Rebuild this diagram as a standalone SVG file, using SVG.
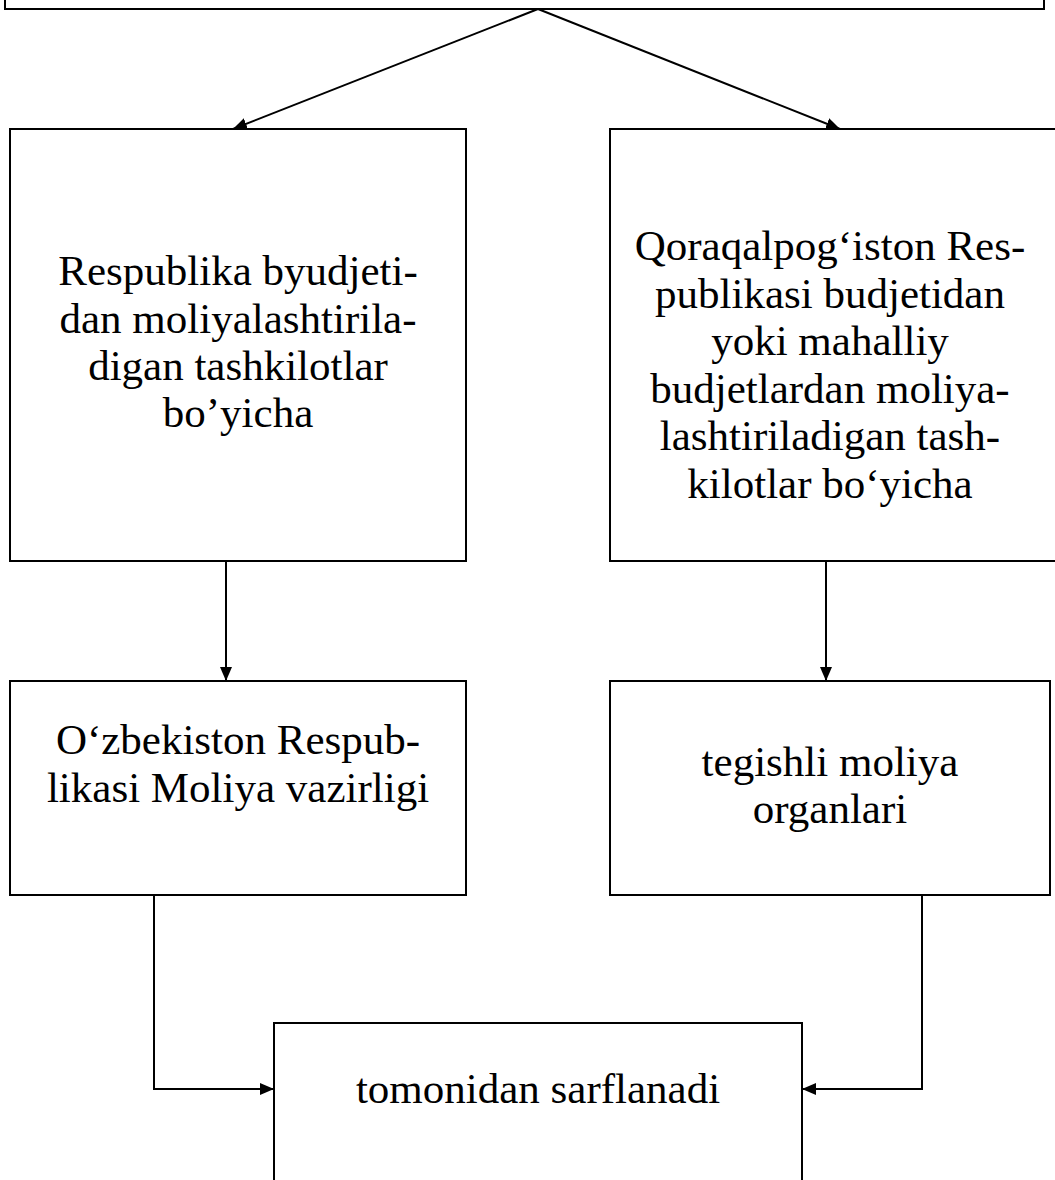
<svg xmlns="http://www.w3.org/2000/svg" width="1055" height="1180" viewBox="0 0 1055 1180">
<defs>
<style>
.box{fill:#fff;stroke:#000;stroke-width:2}
.t{font-family:"Liberation Serif","Times New Roman",serif;font-size:43px;fill:#000;text-anchor:middle}
.c{fill:none;stroke:#000;stroke-width:2}
</style>
<marker id="ah" viewBox="0 0 14 12" refX="14" refY="6" markerWidth="14" markerHeight="12" markerUnits="userSpaceOnUse" orient="auto">
<path d="M0,0 L14,6 L0,12 Z" fill="#000"/>
</marker>
</defs>
<rect width="1055" height="1180" fill="#fff"/>
<g id="top"><rect class="box" x="5" y="-60" width="1039" height="69"/></g>
<g id="left-mid"><rect class="box" x="10" y="129" width="456" height="432"/>
<text class="t" x="238" y="285">Respublika byudjeti-</text>
<text class="t" x="238" y="333">dan moliyalashtirila-</text>
<text class="t" x="238" y="380">digan tashkilotlar</text>
<text class="t" x="238" y="427">bo’yicha</text></g>
<g id="right-mid"><rect class="box" x="610" y="129" width="460" height="432"/>
<text class="t" x="830" y="260">Qoraqalpog‘iston Res-</text>
<text class="t" x="830" y="308">publikasi budjetidan</text>
<text class="t" x="830" y="355">yoki mahalliy</text>
<text class="t" x="830" y="403">budjetlardan moliya-</text>
<text class="t" x="830" y="450">lashtiriladigan tash-</text>
<text class="t" x="830" y="498">kilotlar bo‘yicha</text></g>
<g id="left-low"><rect class="box" x="10" y="681" width="456" height="214"/>
<text class="t" x="238" y="754">O‘zbekiston Respub-</text>
<text class="t" x="238" y="802">likasi Moliya vazirligi</text></g>
<g id="right-low"><rect class="box" x="610" y="681" width="440" height="214"/>
<text class="t" x="830" y="776">tegishli moliya</text>
<text class="t" x="830" y="823">organlari</text></g>
<g id="bottom"><rect class="box" x="274" y="1023" width="528" height="200"/>
<text class="t" x="538" y="1103">tomonidan sarflanadi</text></g>
<g id="connectors">
<path class="c" d="M538,9 L233,129" marker-end="url(#ah)"/>
<path class="c" d="M538,9 L840,129" marker-end="url(#ah)"/>
<path class="c" d="M226,561 L226,681" marker-end="url(#ah)"/>
<path class="c" d="M826,561 L826,681" marker-end="url(#ah)"/>
<path class="c" d="M154,895 L154,1089 L274,1089" marker-end="url(#ah)"/>
<path class="c" d="M922,895 L922,1089 L802,1089" marker-end="url(#ah)"/>
</g>
</svg>
